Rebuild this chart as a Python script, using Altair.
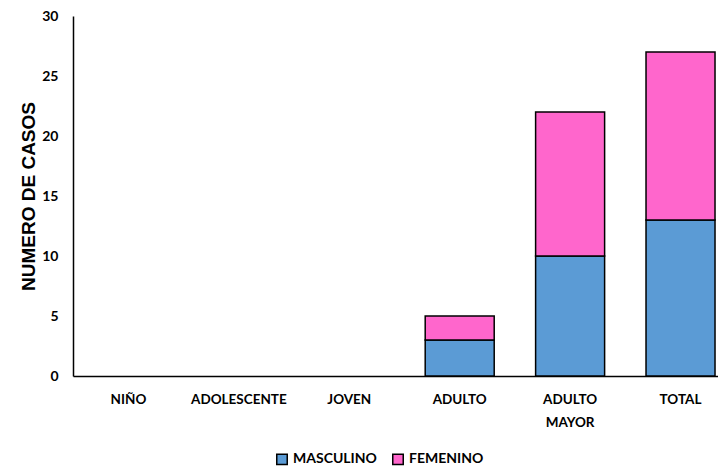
import altair as alt
import pandas as pd

categorias = ["NIÑO", "ADOLESCENTE", "JOVEN", "ADULTO", "ADULTO MAYOR", "TOTAL"]
masculino = [0, 0, 0, 3, 10, 13]
femenino = [0, 0, 0, 2, 12, 14]
series = ["MASCULINO", "FEMENINO"]
colores = ["#5B9BD5", "#FF66CC"]

rows = []
for c, m, f in zip(categorias, masculino, femenino):
    rows.append({"cat": c, "sexo": "MASCULINO", "n": m, "ord": 0})
    rows.append({"cat": c, "sexo": "FEMENINO", "n": f, "ord": 1})
df = pd.DataFrame(rows)

chart = alt.Chart(df).transform_filter("datum.n > 0").mark_bar(stroke="black", strokeWidth=1.5).encode(
    x=alt.X("cat:N", sort=categorias, title=None,
            scale=alt.Scale(domain=categorias, range=[0, 663], paddingInner=0.375, paddingOuter=0.19),
            axis=alt.Axis(labelAngle=0, ticks=False, domainColor="black", domainWidth=1.5,
                          labelFont="Lato", labelFontWeight="bold", labelFontSize=13.5,
                          labelColor="black", labelPadding=16, labelLineHeight=23,
                          labelExpr="split(datum.label, ' ')")),
    y=alt.Y("n:Q", stack="zero", title="NUMERO DE CASOS",
            scale=alt.Scale(domain=[0, 30], nice=False),
            axis=alt.Axis(values=[0, 5, 10, 15, 20, 25, 30], ticks=False, grid=False,
                          domainColor="black", domainWidth=1.5,
                          labelFont="Lato", labelFontWeight="bold", labelFontSize=14,
                          labelColor="black", labelPadding=15,
                          titleFont="Liberation Sans", titleFontWeight="bold", titleFontSize=19,
                          titleColor="black", titlePadding=3)),
    color=alt.Color("sexo:N", sort=series,
                    scale=alt.Scale(domain=series, range=colores),
                    legend=alt.Legend(title=None, orient="none", direction="horizontal",
                                      legendX=202, legendY=436,
                                      symbolType="square", symbolStrokeColor="black",
                                      symbolStrokeWidth=1.5, symbolSize=110,
                                      labelFont="Lato", labelFontWeight="bold",
                                      labelFontSize=14, labelColor="black",
                                      columnPadding=12, labelOffset=4)),
    order=alt.Order("ord:Q"),
).properties(
    width=645, height=360,
    padding={"left": 65, "top": 8, "right": 0, "bottom": 91},
    autosize=alt.AutoSizeParams(type="none"),
).configure_view(stroke=None)

chart.save("out.html", embed_options={"renderer": "svg", "actions": False})
